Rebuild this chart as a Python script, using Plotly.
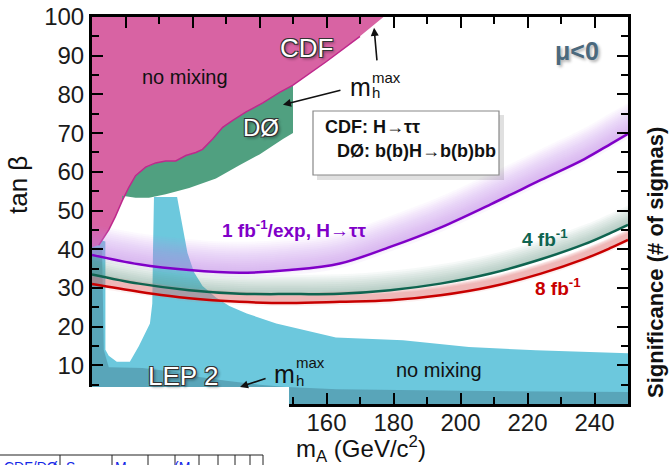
import plotly.graph_objects as go

# ---------------- data ----------------
# discovery-reach curves (tan beta vs m_A)
mA_curve = [90, 104, 119, 134, 149, 164, 179, 194, 209, 224, 237, 245, 250]
tb_1fb = [38.5, 36.1, 34.6, 33.9, 34.6, 36.3, 40.6, 45.6, 51.6, 57.9, 63.3, 67.3, 69.8]
tb_4fb = [33.5, 31.1, 29.4, 28.5, 28.4, 28.5, 29.4, 31.1, 33.7, 37.4, 41.3, 44.3, 46.3]
tb_8fb = [31.0, 29.0, 27.3, 26.4, 26.1, 26.4, 26.8, 28.1, 30.3, 33.7, 37.5, 40.4, 42.4]

# CDF excluded region (no mixing)
cdf_mA = [90, 177, 170, 160, 150, 146, 141, 136, 132, 129, 126, 123, 121, 118, 115, 112, 109,
          106, 103, 101, 99, 97, 95, 92, 90]
cdf_tb = [100, 100, 95, 88.5, 82.4, 80.5, 77.8, 75.5, 73.3, 71.5, 68.5, 65.8, 65.0, 64.2, 62.8,
          62.8, 62.3, 61.2, 59.0, 56.0, 52.5, 48.5, 45.0, 41.0, 40.5]

# D0 excluded region
d0_mA = [99, 101, 103, 106, 109, 112, 115, 118, 121, 123, 126, 129, 132, 136, 141, 146, 150,
         150, 147, 140, 134, 127, 119, 112, 107, 103, 99]
d0_tb = [52.5, 56.0, 59.0, 61.2, 62.3, 62.8, 62.8, 64.2, 65.0, 65.8, 68.5, 71.5, 73.3, 75.5,
         77.8, 80.5, 82.4, 70.0, 68.5, 64.5, 61.7, 58.3, 55.8, 54.2, 53.3, 53.3, 53.8]

# LEP 2 excluded region (no mixing)
lep_mA = [90, 90, 94, 94, 95, 97.4, 101.3, 104, 107.3, 108, 108.2, 108.5, 115.4, 117, 118.5,
          120.5, 123, 127, 131, 136.2, 145, 162.8, 182.8, 202.5, 222.5, 250, 250]
lep_tb = [0, 43, 42, 14, 12.5, 10.9, 10.9, 15, 20.8, 26, 39, 53.5, 53.5, 46, 39, 34, 30.5,
          27.5, 25.3, 23.4, 20.8, 17.2, 16.5, 14.7, 13.9, 13.1, 0]

# LEP 2 excluded region (m_h max)
lepmax_mA = [90, 90, 93, 93.5, 95, 105, 115, 122, 130, 140, 148, 163, 200, 250, 250]
lepmax_tb = [0, 40.5, 40.5, 14, 9.5, 9.3, 8.3, 7.0, 6.0, 5.0, 4.4, 3.8, 3.4, 3.1, 0]

x_ticks = [100, 120, 140, 160, 180, 200, 220, 240]
y_ticks = [10, 20, 30, 40, 50, 60, 70, 80, 90, 100]

# ---------------- geometry helpers (pixel -> paper) ----------------
W, H = 672, 465
L, R, T, B = 92, 44, 17, 61
PW, PH = W - L - R, H - T - B


def px(x):
    return (x - L) / PW


def py(y):
    return (H - B - y) / PH


ARIAL = "Liberation Sans, Arial, sans-serif"
NARROW = "Liberation Sans Narrow, Arial Narrow, Liberation Sans, Arial, sans-serif"

fig = go.Figure()


def poly(xs, ys, color):
    fig.add_trace(go.Scatter(x=xs, y=ys, mode="lines", fill="toself", fillcolor=color,
                             line=dict(width=0), hoverinfo="skip", showlegend=False))


poly(lep_mA, lep_tb, "rgb(108,200,221)")
poly(lepmax_mA, lepmax_tb, "rgba(70,130,150,0.5)")
poly(cdf_mA, cdf_tb, "rgb(216,99,163)")
poly(d0_mA, d0_tb, "rgb(80,160,128)")
# CDF boundary line
fig.add_trace(go.Scatter(x=cdf_mA[2:-1], y=cdf_tb[2:-1], mode="lines",
                         line=dict(color="rgb(190,40,140)", width=1.5),
                         hoverinfo="skip", showlegend=False))


def glow(ys, rgb, offsets, alpha):
    # overlapping bands, all starting at the curve -> smooth fade without seams
    for o in offsets:
        fig.add_trace(go.Scatter(x=mA_curve, y=ys, mode="lines",
                                 line=dict(width=0, shape="spline"), hoverinfo="skip",
                                 showlegend=False))
        fig.add_trace(go.Scatter(x=mA_curve, y=[v + o for v in ys], mode="lines",
                                 line=dict(width=0, shape="spline"), fill="tonexty",
                                 fillcolor=f"rgba({rgb},{alpha})", hoverinfo="skip",
                                 showlegend=False))


glow(tb_1fb, "190,140,235", [0.5 * k for k in range(16, 0, -1)], 0.05)
glow(tb_1fb, "190,140,235", [-0.6, -1.2], 0.08)
glow(tb_4fb, "110,150,140", [0.5 * k for k in range(10, 0, -1)], 0.06)
glow(tb_8fb, "228,120,120", [2.7, 2.4, 2.1, 1.8], 0.17)
glow(tb_8fb, "228,120,120", [-0.4, -0.8], 0.1)

for ys, col in [(tb_1fb, "rgb(128,0,200)"), (tb_4fb, "rgb(15,100,80)"), (tb_8fb, "rgb(200,0,0)")]:
    fig.add_trace(go.Scatter(x=mA_curve, y=ys, mode="lines",
                             line=dict(color=col, width=2.5, shape="spline"),
                             hoverinfo="skip", showlegend=False))

OUTLINE = ("-1px -1px 0 #333, 1px -1px 0 #333, -1px 1px 0 #333, 1px 1px 0 #333, "
           "2px 2px 3px rgba(0,0,0,0.45)")

ann = []


def text(x, y, s, size, color="#111", family=ARIAL, xanchor="center",
         yanchor="middle", weight="normal", shadow="none", angle=0):
    ann.append(dict(x=x, y=y, xref="paper", yref="paper", text=s, showarrow=False,
                    xanchor=xanchor, yanchor=yanchor, textangle=angle,
                    font=dict(size=size, color=color, family=family, weight=weight,
                              shadow=shadow)))


# region labels
text(px(185), py(77), "no mixing", 20)
text(px(439), py(370), "no mixing", 20)
text(px(306), py(48), "CDF", 26, color="white", shadow=OUTLINE)
text(px(261), py(128), "DØ", 24, color="white", shadow=OUTLINE)
text(px(183), py(376), "LEP 2", 26, color="white", shadow=OUTLINE)
text(px(577), py(51), "μ<0", 25, color="rgb(75,105,125)", weight="bold",
     shadow="2px 2px 3px rgba(0,0,0,0.3)")

# m_h^max labels
text(px(360), py(87), "m", 25)
text(px(370), py(77), "max", 15, xanchor="left")
text(px(370), py(92), "h", 15, xanchor="left")
text(px(284), py(374), "m", 25)
text(px(294), py(362), "max", 15, xanchor="left")
text(px(294), py(380), "h", 15, xanchor="left")

# curve labels
text(px(220), py(229), "1 fb<sup>-1</sup>/exp, H→ττ", 19, color="rgb(128,0,200)",
     family=NARROW, weight="bold", xanchor="left")
text(px(545), py(238), "4 fb<sup>-1</sup>", 19, color="rgb(15,100,80)", family=NARROW,
     weight="bold")
text(px(558), py(287), "8 fb<sup>-1</sup>", 19, color="rgb(200,0,0)", family=NARROW,
     weight="bold")

# legend box text
text(px(323), py(127), "CDF: H→ττ", 18, family=NARROW, weight="bold", xanchor="left")
text(px(335), py(151), "DØ: b(b)H→b(b)bb", 18, family=NARROW, weight="bold", xanchor="left")

# axis titles
text(px(18), py(185), "tan β", 26, angle=-90)
text(px(361), py(449), "m<sub>A</sub> (GeV/c<sup>2</sup>)", 24)
text(px(655), py(263), "Significance (# of sigmas)", 22, weight="bold", angle=-90)

# table fragment text at bottom
BLUE = "rgb(20,40,230)"
text(px(2), py(457), "CDF/DØ", 14, color=BLUE, xanchor="left", yanchor="top")
text(px(64), py(457), "S", 14, color=BLUE, xanchor="left", yanchor="top")
text(px(113), py(457), "M", 14, color=BLUE, xanchor="left", yanchor="top")
text(px(172), py(457), "(M", 14, color=BLUE, xanchor="left", yanchor="top")

# arrows
for tip, tail in [((174.2, 97.2), (3, 34)), ((147, 77.3), (59, -15)), ((134.2, 4.4), (27, -9))]:
    ann.append(dict(x=tip[0], y=tip[1], xref="x", yref="y", ax=tail[0], ay=tail[1],
                    axref="pixel", ayref="pixel", text="", showarrow=True, arrowhead=2,
                    arrowsize=1, arrowwidth=1.6, arrowcolor="#111"))

shapes = [
    # legend box shadow + box
    dict(type="rect", xref="paper", yref="paper", x0=px(317), x1=px(504), y0=py(180), y1=py(115),
         fillcolor="rgba(0,0,0,0.12)", line=dict(width=0), layer="above"),
    dict(type="rect", xref="paper", yref="paper", x0=px(313), x1=px(499), y0=py(175), y1=py(111),
         fillcolor="white", line=dict(color="#888", width=1.2), layer="above"),
    # white patch covering lower-left
    dict(type="rect", xref="paper", yref="paper", x0=px(-5), x1=px(289), y0=py(387), y1=py(470),
         fillcolor="white", line=dict(width=0), layer="above"),
    # table fragment
    dict(type="line", xref="paper", yref="paper", x0=px(0), x1=px(263), y0=py(455), y1=py(455),
         line=dict(color="#222", width=1.2), layer="above"),
]
for vx in [60, 112, 148, 175, 199, 218, 235, 250, 263]:
    shapes.append(dict(type="line", xref="paper", yref="paper", x0=px(vx), x1=px(vx),
                       y0=py(455), y1=py(468), line=dict(color="#222", width=1), layer="above"))

axis_common = dict(showline=True, linewidth=3, linecolor="black", mirror="ticks",
                   ticks="inside", ticklen=11, tickwidth=1.5, tickcolor="black",
                   showgrid=False, zeroline=False, automargin=False,
                   tickfont=dict(size=24, color="#1a1a1a", family=ARIAL))

fig.update_layout(
    width=W, height=H, margin=dict(l=L, r=R, t=T, b=B, autoexpand=False),
    paper_bgcolor="white", plot_bgcolor="white",
    xaxis=dict(range=[90, 250], tickvals=x_ticks, ticklabelstandoff=-5,
               minor=dict(dtick=10, tick0=90, ticks="inside", ticklen=7, tickwidth=1.5,
                          tickcolor="black"), **axis_common),
    yaxis=dict(range=[0, 100], tickvals=y_ticks,
               minor=dict(dtick=5, tick0=0, ticks="inside", ticklen=7, tickwidth=1.5,
                          tickcolor="black"), **axis_common),
    annotations=ann, shapes=shapes, showlegend=False,
)

fig.write_html("out.html", config={"displayModeBar": False},
               post_script="document.body.style.margin='0';"
                           "document.body.style.overflow='hidden';")
